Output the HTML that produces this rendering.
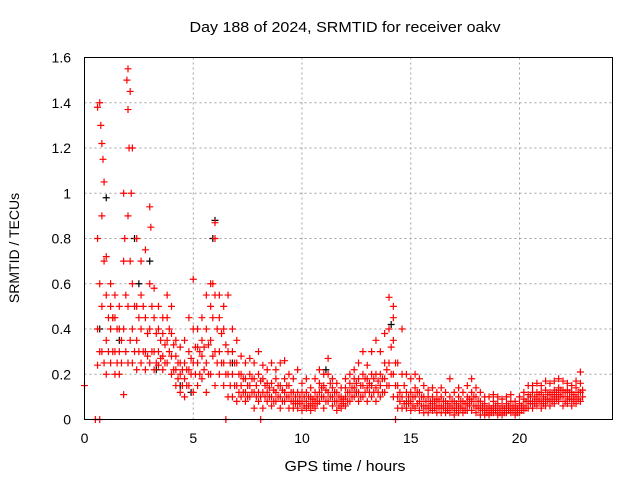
<!DOCTYPE html>
<html><head><meta charset="utf-8"><style>
body{margin:0;background:#fff}
svg{display:block;font-family:"Liberation Sans",sans-serif}
</style></head><body>
<svg id="c" width="640" height="480">
<text x="345" y="32" font-size="15" text-anchor="middle" textLength="311" lengthAdjust="spacingAndGlyphs">Day 188 of 2024, SRMTID for receiver oakv</text>
<text x="345" y="471" font-size="15" text-anchor="middle" textLength="121" lengthAdjust="spacingAndGlyphs">GPS time / hours</text>
<text transform="translate(19,248) rotate(-90)" font-size="14" text-anchor="middle">SRMTID / TECUs</text>
<g id="grid"></g><g id="marks"></g>
<rect x="84.5" y="57.5" width="528" height="362" fill="none" stroke="#000"/>
</svg>
<script>
const xTicks=[0,5,10,15,20];
const yTicks=[0,0.2,0.4,0.6,0.8,1,1.2,1.4,1.6];
const yTickLabels=["0","0.2","0.4","0.6","0.8","1","1.2","1.4","1.6"];
const hours=[0.6,0.8,1.0,1.2,1.4,1.6,1.8,2.0,2.2,2.4,2.6,2.8,3.0,3.2,3.4,3.6,3.8,4.0,4.2,4.4,4.6,4.8,5.0,5.2,5.4,5.6,5.8,6.0,6.2,6.4,6.6,6.8,7.0,7.2,7.4,7.6,7.8,8.0,8.2,8.4,8.6,8.8,9.0,9.2,9.4,9.6,9.8,10.0,10.2,10.4,10.6,10.8,11.0,11.2,11.4,11.6,11.8,12.0,12.2,12.4,12.6,12.8,13.0,13.2,13.4,13.6,13.8,14.0,14.2,14.4,14.6,14.8,15.0,15.2,15.4,15.6,15.8,16.0,16.2,16.4,16.6,16.8,17.0,17.2,17.4,17.6,17.8,18.0,18.2,18.4,18.6,18.8,19.0,19.2,19.4,19.6,19.8,20.0,20.2,20.4,20.6,20.8,21.0,21.2,21.4,21.6,21.8,22.0,22.2,22.4,22.6,22.8];
const sLow=[.24,.3,.2,.25,.2,.2,.11,.25,.25,.22,.25,.22,.25,.22,.24,.22,.25,.2,.15,.12,.1,.15,.12,.15,.18,.12,.2,.15,.2,.15,.1,.1,.08,.1,.08,.1,.05,.08,.05,.08,.06,.08,.05,.08,.05,.05,.05,.04,.05,.04,.05,.08,.05,.08,.06,.04,.05,.06,.08,.1,.08,.1,.08,.1,.08,.1,.12,.15,.1,.05,.05,.05,.04,.05,.04,.03,.03,.04,.03,.03,.03,.03,.02,.03,.03,.04,.04,.03,.02,.02,.02,.03,.02,.02,.03,.03,.02,.03,.04,.05,.05,.06,.05,.06,.06,.07,.08,.06,.07,.06,.07,.08];
const sMid1=[.4,.5,.35,.4,.3,.3,.4,.5,.4,.35,.4,.3,.4,.3,.3,.28,.35,.28,.22,.2,.18,.22,.25,.25,.28,.25,.35,.3,.3,.25,.2,.2,.15,.15,.12,.15,.12,.12,.12,.12,.1,.12,.1,.12,.1,.08,.08,.08,.08,.07,.08,.12,.1,.12,.1,.08,.08,.1,.12,.14,.12,.15,.14,.15,.14,.15,.18,.25,.2,.1,.1,.08,.08,.1,.08,.06,.06,.07,.06,.06,.05,.06,.05,.06,.05,.07,.08,.06,.05,.04,.04,.05,.04,.04,.05,.05,.04,.05,.06,.08,.08,.09,.08,.09,.09,.1,.11,.1,.1,.09,.1,.12];
const sMid2=[.8,.9,.55,.5,.45,.4,.7,.9,.6,.5,.55,.45,.6,.45,.4,.38,.45,.38,.28,.25,.25,.3,.4,.32,.35,.4,.5,.55,.45,.4,.3,.3,.25,.2,.18,.2,.18,.2,.18,.16,.16,.18,.15,.18,.15,.12,.12,.12,.12,.1,.12,.16,.15,.2,.14,.12,.1,.14,.16,.18,.18,.2,.18,.2,.2,.2,.25,.4,.35,.15,.2,.12,.12,.14,.12,.1,.1,.1,.09,.1,.08,.1,.08,.1,.08,.1,.12,.1,.08,.07,.06,.08,.07,.06,.07,.08,.06,.07,.09,.11,.12,.12,.12,.13,.12,.13,.14,.13,.13,.12,.14,.16];
const sHigh=[1.38,1.22,.72,.6,.55,.5,1.0,1.55,1.2,.8,.7,.75,.94,.58,.5,.45,.55,.5,.35,.32,.35,.45,.62,.4,.45,.55,.6,.87,.55,.5,.55,.4,.35,.28,.25,.27,.25,.3,.24,.22,.25,.22,.25,.26,.2,.18,.22,.16,.18,.14,.18,.22,.2,.27,.18,.16,.14,.18,.2,.22,.25,.3,.24,.3,.35,.3,.38,.54,.45,.25,.4,.2,.18,.2,.18,.15,.13,.14,.12,.14,.12,.18,.12,.14,.12,.15,.18,.14,.12,.1,.1,.11,.1,.09,.1,.11,.08,.1,.12,.15,.15,.16,.15,.17,.16,.17,.18,.17,.16,.15,.17,.21];
const hours2=[0.7,0.9,1.1,1.3,1.5,1.7,1.9,2.1,2.3,2.5,2.7,2.9,3.1,3.3,3.5,3.7,3.9,4.1,4.3,4.5,4.7,4.9,5.1,5.3,5.5,5.7,5.9,6.1,6.3,6.5,6.7,6.9,7.1,7.3,7.5,7.7,7.9,8.1,8.3,8.5,8.7,8.9,9.1,9.3,9.5,9.7,9.9,10.1,10.3,10.5,10.7,10.9,11.1,11.3,11.5,11.7,11.9,12.1,12.3,12.5,12.7,12.9,13.1,13.3,13.5,13.7,13.9,14.1,14.3,14.5,14.7,14.9,15.1,15.3,15.5,15.7,15.9,16.1,16.3,16.5,16.7,16.9,17.1,17.3,17.5,17.7,17.9,18.1,18.3,18.5,18.7,18.9,19.1,19.3,19.5,19.7,19.9,20.1,20.3,20.5,20.7,20.9,21.1,21.3,21.5,21.7,21.9,22.1,22.3,22.5,22.7,22.9];
const sA=[.3,.25,.3,.3,.25,.25,.3,.35,.3,.3,.3,.28,.3,.25,.27,.25,.3,.22,.18,.15,.15,.2,.2,.2,.22,.2,.28,.25,.25,.2,.15,.15,.12,.12,.1,.12,.1,.1,.1,.1,.08,.1,.08,.1,.08,.07,.07,.06,.06,.06,.07,.1,.08,.1,.08,.06,.07,.08,.1,.12,.1,.12,.12,.12,.12,.12,.15,.2,.15,.08,.07,.07,.06,.07,.06,.05,.05,.05,.05,.05,.04,.05,.04,.05,.04,.06,.06,.05,.04,.03,.03,.04,.03,.03,.04,.04,.03,.04,.05,.07,.07,.08,.07,.08,.08,.09,.1,.08,.09,.08,.09,.1];
const sB=[.6,.7,.45,.45,.4,.35,.55,.7,.5,.45,.5,.38,.5,.38,.35,.33,.4,.33,.25,.22,.22,.27,.32,.3,.32,.33,.45,.4,.38,.33,.25,.25,.2,.18,.15,.18,.15,.17,.15,.14,.13,.15,.13,.15,.12,.1,.1,.1,.1,.09,.1,.14,.13,.16,.12,.1,.09,.12,.14,.16,.15,.18,.16,.18,.17,.18,.22,.32,.25,.12,.15,.1,.1,.12,.1,.08,.08,.08,.08,.08,.07,.08,.07,.08,.07,.09,.1,.08,.06,.05,.05,.06,.05,.05,.06,.06,.05,.06,.08,.1,.1,.11,.1,.11,.11,.12,.13,.12,.12,.11,.12,.13];
const extraX=[0,0.5,0.7,6.5,8.1,14.3,0.7,0.9,1.3,2.0,2.1,5.9,6.0,14.2,0.75,0.85,1.95,2.05,2.15,3.05,1.85];
const extraY=[0.15,0,0,0,0,0,1.4,1.05,.45,1.37,1.45,.6,.8,.5,1.3,1.15,1.5,1.2,1.0,.85,.8];
const blackX=[0.7,1.0,1.6,2.3,2.5,3.0,3.3,4.4,4.9,5.9,6.0,6.8,11.1,12.5,14.1];
const blackY=[.4,.98,.35,.8,.6,.7,.22,.15,.12,.8,.88,.25,.22,.12,.42];
const X=h=>84.5+h*21.75, Y=v=>419.5-v*226.25;
const NS="http://www.w3.org/2000/svg";
const grid=document.getElementById('grid'), marks=document.getElementById('marks');
function mk(t,a,p){const e=document.createElementNS(NS,t);for(const k in a)e.setAttribute(k,a[k]);p.appendChild(e);return e;}
xTicks.forEach(t=>{
 if(t>0){const g=mk('line',{x1:X(t),x2:X(t),y1:57.5,y2:419.5,stroke:'#a0a0a0','stroke-dasharray':'2,3'},grid);
 
 }
 const l=mk('text',{x:X(t),y:443,'font-size':14,'text-anchor':'middle'},grid);l.textContent=t;
 
 
});
yTicks.forEach((t,i)=>{
 if(t>0&&t<1.6){const g=mk('line',{x1:84.5,x2:612.5,y1:Y(t),y2:Y(t),stroke:'#a0a0a0','stroke-dasharray':'2,3'},grid);
 
 }
 const l=mk('text',{x:71,y:Y(t)+5,'font-size':14,'text-anchor':'end'},grid);l.textContent=yTickLabels[i];
 
 
});
function plus(h,v,c,name){
 const x=X(h),y=Y(v);
 const p=mk('path',{d:`M${x-3.5},${y}H${x+3.5}M${x},${y-3.5}V${y+3.5}`,stroke:c,'stroke-width':1.2,fill:'none'},marks);
 
 
}
blackX.forEach((h,i)=>plus(h,blackY[i],'#000','black-point'));
[sLow,sMid1,sMid2,sHigh].forEach(s=>hours.forEach((h,i)=>plus(h,s[i],'#f00','red-point')));
[sA,sB].forEach(s=>hours2.forEach((h,i)=>plus(h,s[i],'#f00','red-point')));
extraX.forEach((h,i)=>plus(h,extraY[i],'#f00','red-point'));
</script>
</body></html>
